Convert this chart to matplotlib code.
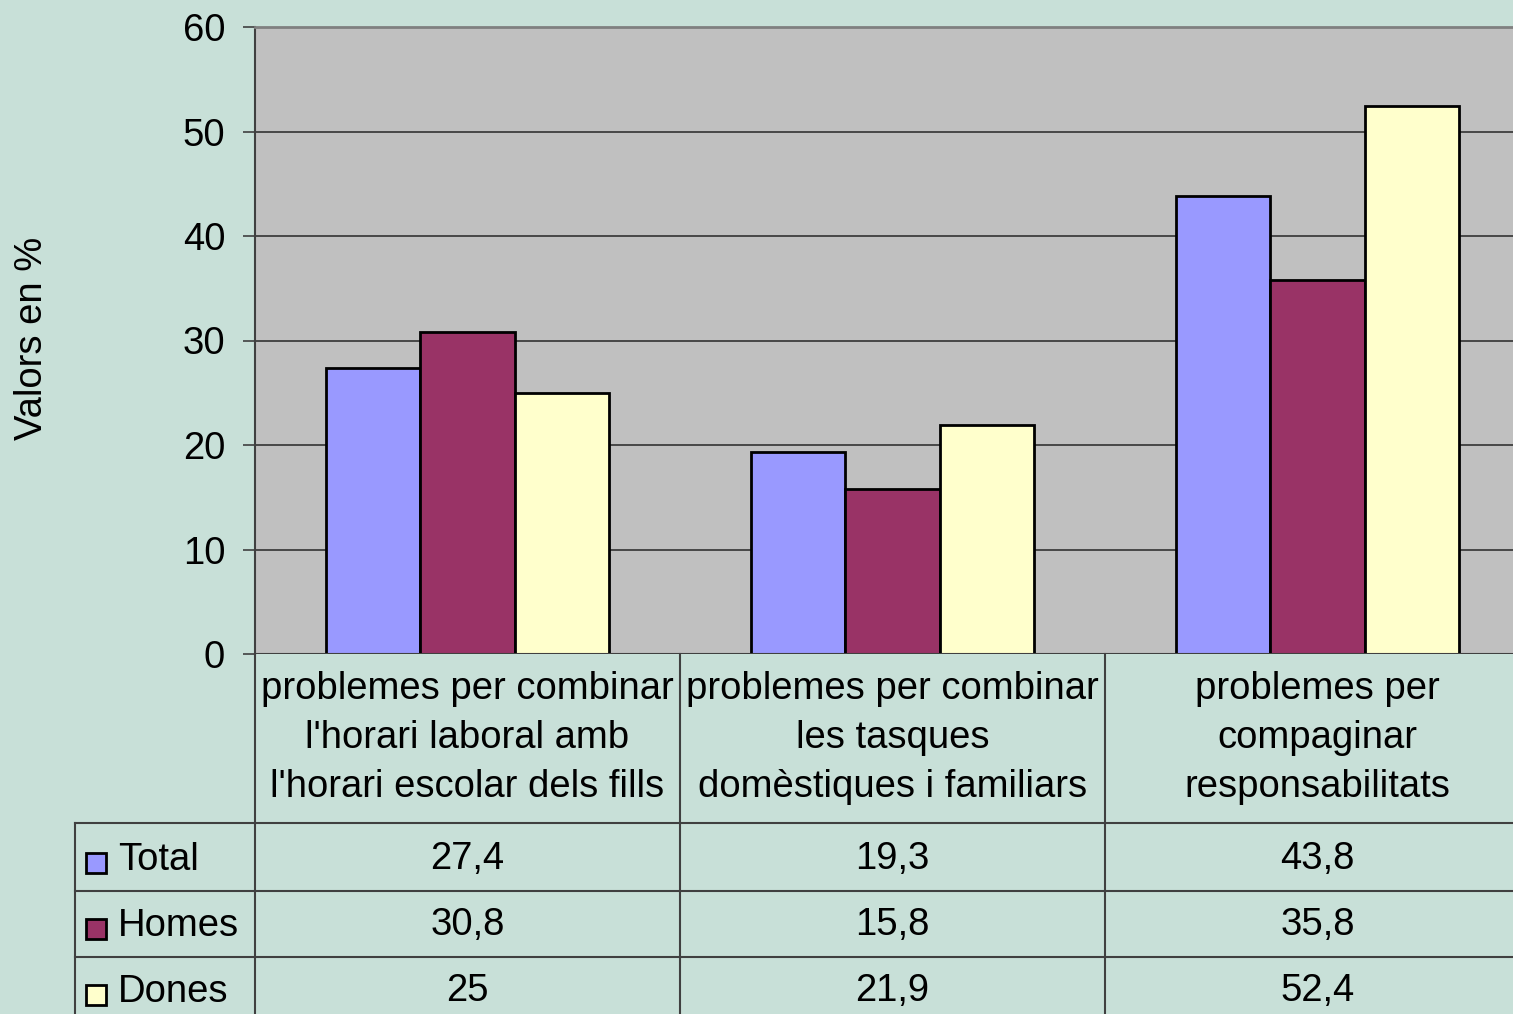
import matplotlib
matplotlib.use("Agg")
import matplotlib.pyplot as plt
from matplotlib.patches import Rectangle
from matplotlib.transforms import blended_transform_factory

# data
categories = ["problemes per combinar\nl'horari laboral amb\nl'horari escolar dels fills",
              "problemes per combinar\nles tasques\ndomèstiques i familiars",
              "problemes per\ncompaginar\nresponsabilitats"]
series = ["Total", "Homes", "Dones"]
total = [27.4, 19.3, 43.8]
homes = [30.8, 15.8, 35.8]
dones = [25, 21.9, 52.4]
labels_total = ["27,4", "19,3", "43,8"]
labels_homes = ["30,8", "15,8", "35,8"]
labels_dones = ["25", "21,9", "52,4"]

colors = ["#9999FF", "#993366", "#FFFFCC"]
bg = "#C8E0D8"
W, H = 1513, 1014

plt.rcParams['font.family'] = ['Liberation Sans', 'DejaVu Sans']
fs = 27.5

fig = plt.figure(figsize=(W / 100, H / 100), dpi=100)
fig.patch.set_facecolor(bg)

# plot area: x 255..1530 px (cropped at right), y 27..654 px
ax = fig.add_axes([255 / W, 1 - 654 / H, 1275 / W, 627 / H])
ax.set_facecolor("#C0C0C0")

bw = 0.222
x = [0, 1, 2]
for k, vals in enumerate([total, homes, dones]):
    ax.bar([i + (k - 1) * bw for i in x], vals, width=bw, color=colors[k],
           edgecolor="black", linewidth=2, zorder=3)

ax.set_xlim(-0.5, 2.5)
ax.set_ylim(0, 60)
ax.set_yticks(range(0, 61, 10))
ax.yaxis.grid(True, color="#333333", linewidth=1.2, zorder=0)
ax.set_xticks([])
ax.tick_params(axis="y", length=8.5, width=1.2, color="#404040", pad=13, labelsize=fs)
for s in ["right", "bottom"]:
    ax.spines[s].set_visible(False)
ax.spines["left"].set_color("#404040")
ax.spines["left"].set_linewidth(1.5)
ax.spines["top"].set_color("#808080")
ax.spines["top"].set_linewidth(2)
ax.axhline(0, color="#404040", linewidth=1.5, zorder=4)

fig.text(32 / W, 1 - 338 / H, "Valors en %", rotation=90, fontsize=fs,
         ha="center", va="center")

# data table below the plot
tr = blended_transform_factory(ax.transData, fig.transFigure)
def fy(p):
    return 1 - p / H

lc = "#404040"
for b in [-0.5, 0.5, 1.5, 2.5]:
    ax.plot([b, b], [fy(654), fy(1014)], transform=tr, color=lc, lw=1.5, clip_on=False)
for yy in [823, 891, 957]:
    fig.add_artist(plt.Line2D([75 / W, 1], [fy(yy), fy(yy)], color=lc, lw=1.5))
fig.add_artist(plt.Line2D([75 / W, 75 / W], [fy(823), 0], color=lc, lw=1.5))

for i, c in enumerate(categories):
    ax.text(i, fy(738), c, transform=tr, ha="center", va="center",
            fontsize=fs, linespacing=1.48)

rows_y = [860, 926, 992]
for r, (name, labs) in enumerate(zip(series, [labels_total, labels_homes, labels_dones])):
    yc = rows_y[r]
    fig.add_artist(Rectangle((86 / W, fy(yc + 13)), 20 / W, 20 / H,
                             transform=fig.transFigure, facecolor=colors[r],
                             edgecolor="black", linewidth=2))
    fig.text(118 / W, fy(yc), name, fontsize=fs, ha="left", va="center")
    for i, t in enumerate(labs):
        ax.text(i, fy(yc - 1), t, transform=tr, ha="center", va="center", fontsize=fs)

fig.savefig("out.png", dpi=100, facecolor=bg)
